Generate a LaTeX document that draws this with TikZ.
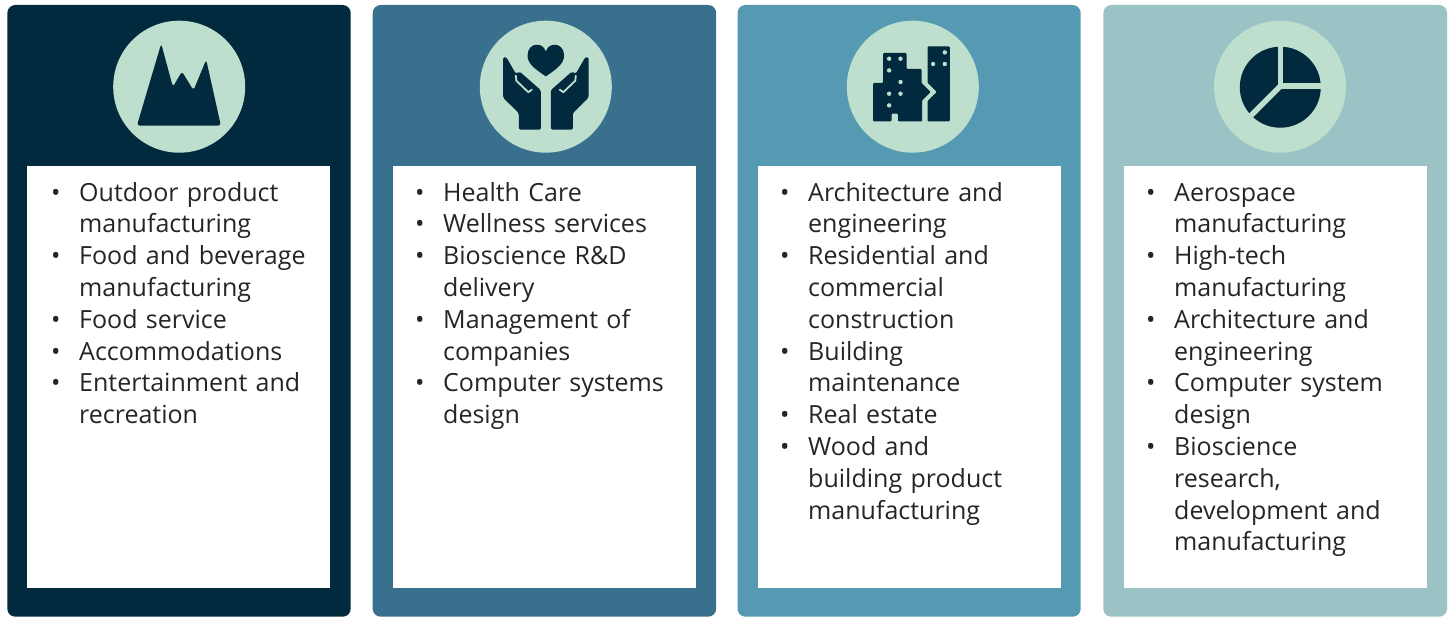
\documentclass[tikz,border=0pt]{standalone}
\usepackage{fontspec}
\setmainfont{Open Sans}
\definecolor{pA}{RGB}{2,42,62}
\definecolor{pB}{RGB}{56,112,141}
\definecolor{pC}{RGB}{86,153,178}
\definecolor{pD}{RGB}{155,195,198}
\definecolor{mint}{RGB}{190,223,205}
\definecolor{icn}{RGB}{2,42,62}
\definecolor{txt}{RGB}{37,37,37}
\newcommand{\bul}{\leavevmode\llap{\makebox[28pt][l]{\textbullet}}}
\begin{document}
\begin{tikzpicture}[x=1pt,y=-1pt,
  panel/.style={rounded corners=8pt},
  whitebox/.style={fill=white},
  iconbg/.style={circle, fill=mint, minimum size=132pt, inner sep=0pt},
  listtext/.style={anchor=north west, inner sep=0pt, text width=330pt, align=left,
     font=\fontsize{25}{31.8}\selectfont, text=txt},
  icon/.style={fill=icn},
  gap/.style={draw=mint, line width=5.6pt, line cap=round},
  win/.style={fill=mint}]
\useasboundingbox (0,0) rectangle (1450,617);
% panels
\fill[panel, pA] (7.3,5) rectangle (350.7,616.7);
\fill[panel, pB] (372.7,5) rectangle (716.2,616.7);
\fill[panel, pC] (737.5,5) rectangle (1080.7,616.7);
\fill[panel, pD] (1103.3,5) rectangle (1447,616.7);
% white boxes
\fill[whitebox] (26.7,166) rectangle (330,587.7);
\fill[whitebox] (392.7,166) rectangle (696,587.7);
\fill[whitebox] (758,166) rectangle (1061,587.7);
\fill[whitebox] (1124,166) rectangle (1427,587.7);
% icon circles
\node[iconbg] (c1) at (179.2,86.7) {};
\node[iconbg] (c2) at (545.8,86.7) {};
\node[iconbg] (c3) at (912.8,86.7) {};
\node[iconbg] (c4) at (1280,86.7) {};
% mountain
\begin{scope}[shift={(c1.center)}]
\fill[icon, rounded corners=3pt] (-42.3,39) -- (-18,-43) -- (-6.3,0.3) -- (2.7,-15.3) -- (14.3,3.7) -- (27,-27) -- (41.7,39) -- cycle;
\end{scope}
% hands
\begin{scope}[shift={(c2.center)}]
\fill[icon] (0,-10.3) .. controls (-8,-16) and (-18.3,-22) .. (-18.3,-31)
  .. controls (-18.3,-38) and (-14,-42) .. (-9,-42)
  .. controls (-4.5,-42) and (-1.5,-39.5) .. (0,-35.3)
  .. controls (1.5,-39.5) and (4.5,-42) .. (9,-42)
  .. controls (14,-42) and (18.3,-38) .. (18.3,-31)
  .. controls (18.3,-22) and (8,-16) .. (0,-10.3) -- cycle;
\foreach \s in {1,-1}{
  \begin{scope}[xscale=\s]
  \fill[icon, rounded corners=1.5pt] (-42.7,-29.5) -- (-39.5,-29.5) -- (-30,-13) -- (-26,-15) -- (-5,3.5) -- (-5,43) -- (-27,43) -- (-27,26.5) -- (-42.7,11) -- cycle;
  \draw[mint, line width=1.8pt, line cap=round, line join=round] (-30,-11) -- (-29.5,-6) -- (-17.5,5.5) -- (-14,3);
  \end{scope}
}
\end{scope}
% buildings
\begin{scope}[shift={(c3.center)}]
\fill[icon, rounded corners=1pt] (-29.7,-33.7) -- (-6.3,-33.7) -- (-6.3,-17.7) -- (8.7,-17.7) -- (8.7,-3.7) -- (17.7,5.3) -- (9.3,13.7) -- (9.3,34.7) -- (-14.7,34.7) -- (-14.7,27) -- (-21.3,27) -- (-21.3,34.7) -- (-39.7,34.7) -- (-39.7,-3.7) -- (-29.7,-3.7) -- cycle;
\fill[icon, rounded corners=1pt] (14.7,-40.3) -- (37,-40.3) -- (37,34.7) -- (14.7,34.7) -- (14.7,14.3) -- (24,5.3) -- (14.7,-4) -- cycle;
\foreach \p in {(-23.7,-28),(-12.3,-28),(-23.7,-16.3),(-12.3,-4.7),(-23.7,7),(-12.3,7),(-23.7,18.7),(32,-34.3),(20.3,-22.7),(32,-22.7)}
  \fill[win] \p circle (2.2);
\end{scope}
% pie
\begin{scope}[shift={(c4.center)}]
\fill[icon] (0.3,0.5) circle (40.5);
\draw[gap] (0.5,-0.7) -- (0.5,-46);
\draw[gap] (0.5,-0.7) -- (46,-0.7);
\draw[gap] (0.5,-0.7) -- (-36,35.8);
\end{scope}
% lists
\node[listtext] (t1) at (79,181) {\rule{0pt}{20pt}\bul Outdoor product\\manufacturing\\\bul Food and beverage\\manufacturing\\\bul Food service\\\bul Accommodations\\\bul Entertainment and\\recreation};
\node[listtext] (t2) at (443,181) {\rule{0pt}{20pt}\bul Health Care\\\bul Wellness services\\\bul Bioscience R\&D\\delivery\\\bul Management of\\companies\\\bul Computer systems\\design};
\node[listtext] (t3) at (808,181) {\rule{0pt}{20pt}\bul Architecture and\\engineering\\\bul Residential and\\commercial\\construction\\\bul Building\\maintenance\\\bul Real estate\\\bul Wood and\\building product\\manufacturing};
\node[listtext] (t4) at (1174,181) {\rule{0pt}{20pt}\bul Aerospace\\manufacturing\\\bul High-tech\\manufacturing\\\bul Architecture and\\engineering\\\bul Computer system\\design\\\bul Bioscience\\research,\\development and\\manufacturing};
\end{tikzpicture}
\end{document}
